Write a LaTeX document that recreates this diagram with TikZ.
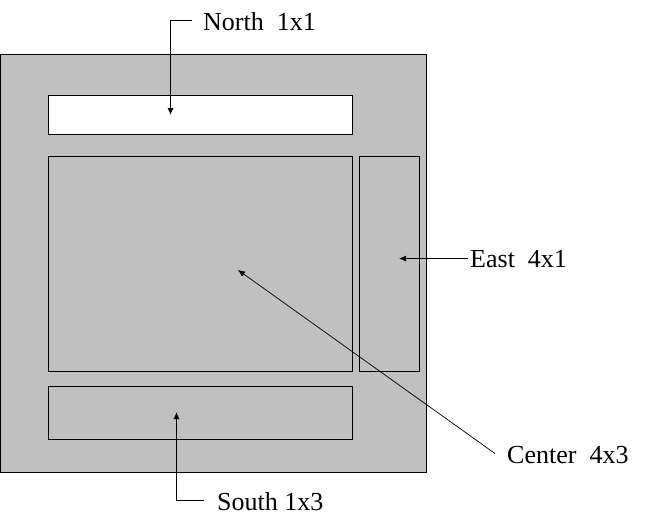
\documentclass[tikz,border=0pt]{standalone}
\usepackage{fontspec}
\setmainfont{Liberation Serif}
\usetikzlibrary{arrows.meta}
\definecolor{panelgray}{HTML}{C0C0C0}
\tikzset{
  x=1pt, y=-1pt,
  region/.style={draw=black, line width=1pt, fill=panelgray, inner sep=0pt, outer sep=0pt},
  lbl/.style={font=\fontsize{26}{30}\selectfont, inner sep=0pt, anchor=base west, text=black},
  arr/.style={line width=0.9pt, -{Latex[length=7pt,width=6pt]}},
}
\begin{document}
\begin{tikzpicture}
\useasboundingbox (0,0) rectangle (658,522);
\fill[white] (0,0) rectangle (658,522);
% outer container
\node[region, minimum width=426pt, minimum height=418pt] (outer) at (213.5,263.5) {};
% regions
\node[region, fill=white, minimum width=304pt, minimum height=39pt] (north) at (200.5,115) {};
\node[region, minimum width=304pt, minimum height=215pt] (center) at (200.5,263.5) {};
\node[region, minimum width=60pt, minimum height=215pt] (east) at (389.5,263.5) {};
\node[region, minimum width=304pt, minimum height=53pt] (south) at (200.5,413) {};
% labels
\node[lbl] (nlbl) at (203,30) {North\ \ 1x1};
\node[lbl] (elbl) at (470,267) {East\ \ 4x1};
\node[lbl] (clbl) at (507,463) {Center\ \ 4x3};
\node[lbl] (slbl) at (217,510) {South 1x3};
% arrow tips
\coordinate (ntip) at (170.5,115);
\coordinate (etip) at (399,257.5);
\coordinate (ctip) at (238,270);
\coordinate (stip) at (176.5,412);
% connectors
\draw[arr] ([xshift=-11pt,yshift=1pt]nlbl.west) -| (ntip);
\draw[arr] ([xshift=-2pt]elbl.west) -- (etip |- elbl.west);
\draw[arr, line width=0.7pt] ([xshift=-12pt,yshift=1pt]clbl.west) -- (ctip);
\draw[arr] ([xshift=-13pt,yshift=1pt]slbl.west) -| (stip);
\end{tikzpicture}
\end{document}
